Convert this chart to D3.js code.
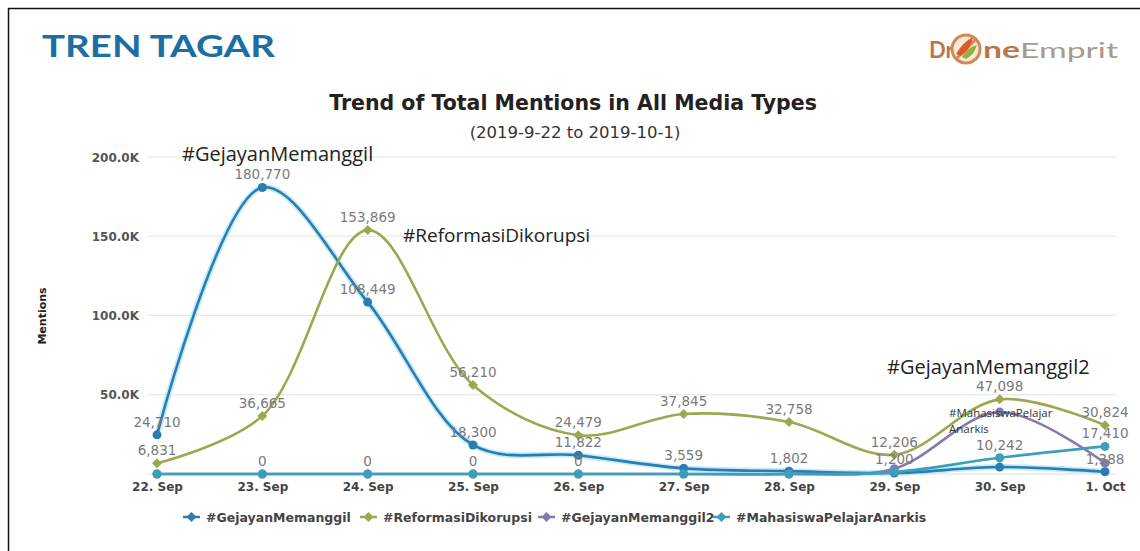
<!DOCTYPE html>
<html><head><meta charset="utf-8">
<script src="https://cdn.jsdelivr.net/npm/d3@7/dist/d3.min.js"></script>
<style>
html,body{margin:0;padding:0;background:#fff;}
svg{display:block;font-family:"DejaVu Sans",sans-serif;}
</style></head>
<body>
<script>
const dates = ["22. Sep","23. Sep","24. Sep","25. Sep","26. Sep","27. Sep","28. Sep","29. Sep","30. Sep","1. Oct"];
const seriesNames = ["#GejayanMemanggil","#ReformasiDikorupsi","#GejayanMemanggil2","#MahasiswaPelajarAnarkis"];
const gejayan = [24710,180770,108449,18300,11822,3559,1802,600,4371,1388];
const reformasi = [6831,36665,153869,56210,24479,37845,32758,12206,47098,30824];
const gejayan2 = [0,0,0,0,0,0,0,3314,39051,6851];
const mahasiswa = [0,0,0,0,0,0,0,1200,10242,17410];
const yTicks = [50000,100000,150000,200000];
const yTickLabels = ["50.0K","100.0K","150.0K","200.0K"];
const colors = ["#2b7cb3","#9aa94f","#8879ad","#3b9fbb"];
const allSeries = [gejayan,reformasi,gejayan2,mahasiswa];

const W=1140,H=551;
const svg=d3.select("body").append("svg").attr("width",W).attr("height",H);
svg.append("rect").attr("width",W).attr("height",H).attr("fill","#fff");
svg.append("path").attr("d","M8.5,"+H+" L8.5,8.5 L"+W+",8.5").attr("fill","none").attr("stroke","#111").attr("stroke-width",1.5);

// header
svg.append("text").attr("x",42).attr("y",57).attr("font-family","Lato, 'Open Sans', sans-serif").attr("font-weight",700)
  .attr("font-size",31).attr("fill","#1c6ea4").attr("textLength",233).attr("lengthAdjust","spacingAndGlyphs").text("TREN TAGAR");
// logo
const lg=svg.append("g");
lg.append("text").attr("x",929).attr("y",58).attr("font-size",22).attr("fill","#b8764a").attr("font-family","Lato, sans-serif").attr("font-weight",700).text("Dr");
lg.append("circle").attr("cx",966).attr("cy",49).attr("r",14).attr("fill","#fbe9d6").attr("stroke","#d08a55").attr("stroke-width",3);
lg.append("path").attr("d","M956,59 L976,39").attr("stroke","#d08a55").attr("stroke-width",3);
lg.append("path").attr("d","M956,54 Q963,42 973,37 Q971,49 961,56 Z").attr("fill","#d95a2a");
lg.append("path").attr("d","M962,57 Q968,47 977,45 Q974,55 966,59 Z").attr("fill","#8fb23c");
lg.append("text").attr("x",983).attr("y",58).attr("font-size",22).attr("font-family","Lato, sans-serif")
  .attr("textLength",135).attr("lengthAdjust","spacingAndGlyphs")
  .html('<tspan fill="#b8764a" font-weight="700">ne</tspan><tspan fill="#a89b8e">Emprit</tspan>');

// titles
svg.append("text").attr("x",573).attr("y",110).attr("text-anchor","middle").attr("font-size",20.5).attr("font-weight",700)
  .attr("fill","#222").text("Trend of Total Mentions in All Media Types");
svg.append("text").attr("x",575).attr("y",138).attr("text-anchor","middle").attr("font-size",16.5)
  .attr("fill","#333").text("(2019-9-22 to 2019-10-1)");

// scales
const x=d3.scalePoint().domain(dates).range([157,1105]);
const y=d3.scaleLinear().domain([0,200000]).range([474,157]);

// grid
svg.append("g").selectAll("line").data(yTicks).join("line")
  .attr("x1",148).attr("x2",1116).attr("y1",d=>y(d)).attr("y2",d=>y(d))
  .attr("stroke","#e2e2e2").attr("stroke-width",1);
svg.append("line").attr("x1",148).attr("x2",1116).attr("y1",y(0)).attr("y2",y(0)).attr("stroke","#dcdcdc");

// y axis
const yAxis=d3.axisLeft(y).tickValues(yTicks).tickFormat((d,i)=>yTickLabels[i]).tickSize(0).tickPadding(0);
const ya=svg.append("g").attr("transform","translate(139,0)").call(yAxis);
ya.select(".domain").remove();
ya.selectAll("text").attr("font-size",12).attr("font-weight",700).attr("fill","#555").attr("font-family","'DejaVu Sans',sans-serif").attr("dy","0.35em");

svg.append("text").attr("transform","translate(46,316) rotate(-90)").attr("text-anchor","middle")
  .attr("font-size",11).attr("font-weight",700).attr("fill","#222").text("Mentions");

// x axis
const xAxis=d3.axisBottom(x).tickSize(0).tickPadding(0);
const xa=svg.append("g").attr("transform","translate(0,474)").call(xAxis);
xa.select(".domain").remove();
xa.selectAll("text").attr("font-size",12).attr("font-weight",700).attr("fill","#444").attr("font-family","'DejaVu Sans',sans-serif").attr("dy","17px");

// lines
const line=d3.line().x((d,i)=>x(dates[i])).y(d=>y(d)).curve(d3.curveCatmullRom.alpha(0.5));
const order=[0,1,2,3];
svg.append("path").attr("d",line(gejayan)).attr("fill","none").attr("stroke","#c4ecf8").attr("stroke-width",6);
order.forEach(s=>{
  svg.append("path").attr("d",line(allSeries[s])).attr("fill","none").attr("stroke",colors[s]).attr("stroke-width",2.6);
});
// markers
order.forEach(s=>{
  const g=svg.append("g");
  allSeries[s].forEach((v,i)=>{
    const cx=x(dates[i]),cy=y(v);
    if(s===1){
      g.append("path").attr("d",`M${cx},${cy-5}L${cx+5},${cy}L${cx},${cy+5}L${cx-5},${cy}Z`).attr("fill",colors[s]);
    } else {
      g.append("circle").attr("cx",cx).attr("cy",cy).attr("r",4.5).attr("fill",colors[s]);
    }
  });
});

// annotations
const ann=[
  {t:"#GejayanMemanggil",x:182,y:161,fs:20},
  {t:"#ReformasiDikorupsi",x:403,y:242,fs:19},
  {t:"#GejayanMemanggil2",x:887,y:374,fs:20},
  {t:"#MahasiswaPelajar",x:949,y:417,fs:11.5},
  {t:"Anarkis",x:949,y:433,fs:11.5}
];
ann.forEach(a=>{
  svg.append("text").attr("x",a.x).attr("y",a.y).attr("font-size",a.fs).attr("fill",a.fs<15?"#333":"#222")
    .attr("font-family","'Open Sans',sans-serif").text(a.t);
});

// data labels with greedy overlap hiding (non-zero first)
const fmt=d3.format(",");
const cands=[];
const sOrder=[1,3,0,2];
sOrder.forEach((s,k)=>allSeries[s].forEach((v,i)=>cands.push({s,i,v,p:(v===0?10:0)+k})));
cands.sort((a,b)=>a.p-b.p);
const placed=[];
const lblG=svg.append("g");
cands.forEach(c=>{
  const cx=x(dates[c.i]),cy=y(c.v);
  const txt=fmt(c.v);
  const w=txt.length*7.4;
  const box={x0:cx-w/2,x1:cx+w/2,y0:cy-19,y1:cy-6};
  const hit=placed.some(b=>!(box.x1<b.x0||box.x0>b.x1||box.y1<b.y0||box.y0>b.y1));
  if(hit) return;
  placed.push(box);
  lblG.append("text").attr("x",cx).attr("y",cy-8).attr("text-anchor","middle").attr("font-size",13.5)
    .attr("fill","#7a7a7a").attr("font-family","'DejaVu Sans',sans-serif").text(txt);
});

// legend
const legX=[183,360,538,713];
seriesNames.forEach((n,i)=>{
  const g=svg.append("g").attr("transform",`translate(${legX[i]},517)`);
  g.append("line").attr("x1",0).attr("x2",17).attr("stroke",colors[i]).attr("stroke-width",2.5);
  g.append("path").attr("d","M8.5,-5L13.5,0L8.5,5L3.5,0Z").attr("fill",colors[i]);
  g.append("text").attr("x",23).attr("y",4.5).attr("font-size",12.5).attr("font-weight",700).attr("fill","#444")
    .attr("font-family","'DejaVu Sans',sans-serif").text(n);
});
</script>
</body></html>
